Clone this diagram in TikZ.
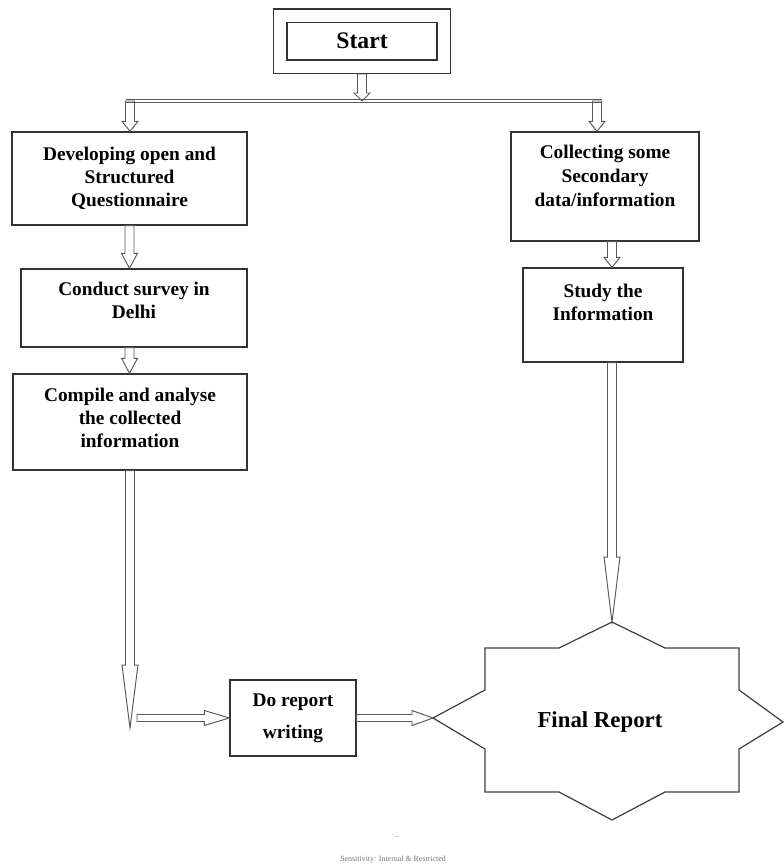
\documentclass[tikz,border=0pt]{standalone}
\usepackage{fontspec}
\setmainfont{Liberation Serif}
\usetikzlibrary{calc}

\tikzset{
  box/.style={draw=black!80, line width=0.8pt, align=center, inner sep=0pt,
              font=\fontsize{11}{13}\selectfont\bfseries},
  hollowdown/.style={draw=black!65, line width=0.55pt, to path={
      let \p1=(\tikztostart), \p2=(\tikztotarget) in
      (\x1-0.09cm,\y1) -- (\x1-0.09cm,\y2+#1) -- (\x1-0.16cm,\y2+#1) -- (\x1,\y2)
      -- (\x1+0.16cm,\y2+#1) -- (\x1+0.09cm,\y2+#1) -- (\x1+0.09cm,\y1) -- cycle}},
  hollowdown/.default=0.3cm,
  hollowright/.style={draw=black!65, line width=0.55pt, to path={
      let \p1=(\tikztostart), \p2=(\tikztotarget) in
      (\x1,\y1+0.07cm) -- (\x2-#1,\y1+0.07cm) -- (\x2-#1,\y1+0.15cm) -- (\x2,\y1)
      -- (\x2-#1,\y1-0.15cm) -- (\x2-#1,\y1-0.07cm) -- (\x1,\y1-0.07cm) -- cycle}},
  hollowright/.default=0.5cm
}

\begin{document}
\begin{tikzpicture}[x=0.02cm, y=-0.02cm]

  \useasboundingbox (0,0) rectangle (784,867);

  \node[box, double, double distance=0.24cm, outer sep=0.15cm, minimum width=3.27cm, minimum height=1.02cm,
        font=\fontsize{13.5}{16}\selectfont\bfseries]            (start)   at (362,41)      {Start};

  \node[box, minimum width=4.7cm,  minimum height=1.86cm]        (dev)     at (129.5,178.5) {Developing open and\\Structured\\Questionnaire};
  \node[box, minimum width=4.52cm, minimum height=1.56cm,
        text depth=0.32cm]                                       (conduct) at (134,308)     {Conduct survey in\\Delhi};
  \node[box, minimum width=4.68cm, minimum height=1.92cm,
        text depth=0.16cm]                                       (compile) at (130,422)     {Compile and analyse\\the collected\\information};

  \node[box, minimum width=3.76cm, minimum height=2.18cm,
        font=\fontsize{11}{13.8}\selectfont\bfseries,
        text depth=0.42cm]                                       (collect) at (605,186.5)   {Collecting some\\Secondary\\data/information};
  \node[box, minimum width=3.2cm,  minimum height=1.88cm,
        text depth=0.52cm]                                       (study)   at (603,315)     {Study the\\Information};

  \node[box, minimum width=2.52cm, minimum height=1.52cm,
        font=\fontsize{11}{18}\selectfont\bfseries]              (report)  at (293,718)     {Do report\\writing};

  \draw[black!75, line width=0.7pt, shift={(612,720)}]
        (0,-98) coordinate (final-n) -- (53,-72) -- (127,-72) -- (127,-30) -- (171,2) -- (127,29)
        -- (127,72) -- (53,72) -- (0,100) -- (-53,72) -- (-127,72) -- (-127,29)
        -- (-179,-2) coordinate (final-w) -- (-127,-30) -- (-127,-72) -- (-53,-72) -- cycle;
  \node[font=\fontsize{13}{16}\selectfont\bfseries]              (final)   at (600,722)     {Final Report};

  \coordinate (forkL) at (130,101);
  \coordinate (forkR) at (597,101);
  \coordinate (bend)  at (130,728);
  \coordinate (turn)  at (137,718);

  \draw[black!65, line width=0.55pt, double, double distance=1.2pt]
        ([xshift=-0.09cm]forkL) -- ([xshift=0.09cm]forkR);

  \path (start.south)            edge [hollowdown=0.16cm]  (start.south |- forkL)
        (forkL)                  edge [hollowdown=0.2cm]   (forkL |- dev.north)
        (forkR)                  edge [hollowdown=0.2cm]   (forkR |- collect.north)
        (dev.south)              edge [hollowdown]         (dev.south |- conduct.north)
        (conduct.south -| dev)   edge [hollowdown]         (dev |- compile.north)
        (compile.south)          edge [hollowdown=1.26cm]  (compile.south |- bend)
        (turn)                   edge [hollowright]        (report.west)
        (report.east)            edge [hollowright=0.42cm] (final-w)
        (collect.south -| final-n) edge [hollowdown=0.2cm] (study.north -| final-n)
        (study.south -| final-n) edge [hollowdown=1.3cm]   (final-n);

  \node[font=\fontsize{4}{5}\selectfont, text=black!60]          (dash)    at (397,838)     {--};
  \node[font=\fontsize{4.5}{5}\selectfont, text=black!55]        (footer)  at (393,860)     {Sensitivity: Internal \& Restricted};
\end{tikzpicture}
\end{document}
